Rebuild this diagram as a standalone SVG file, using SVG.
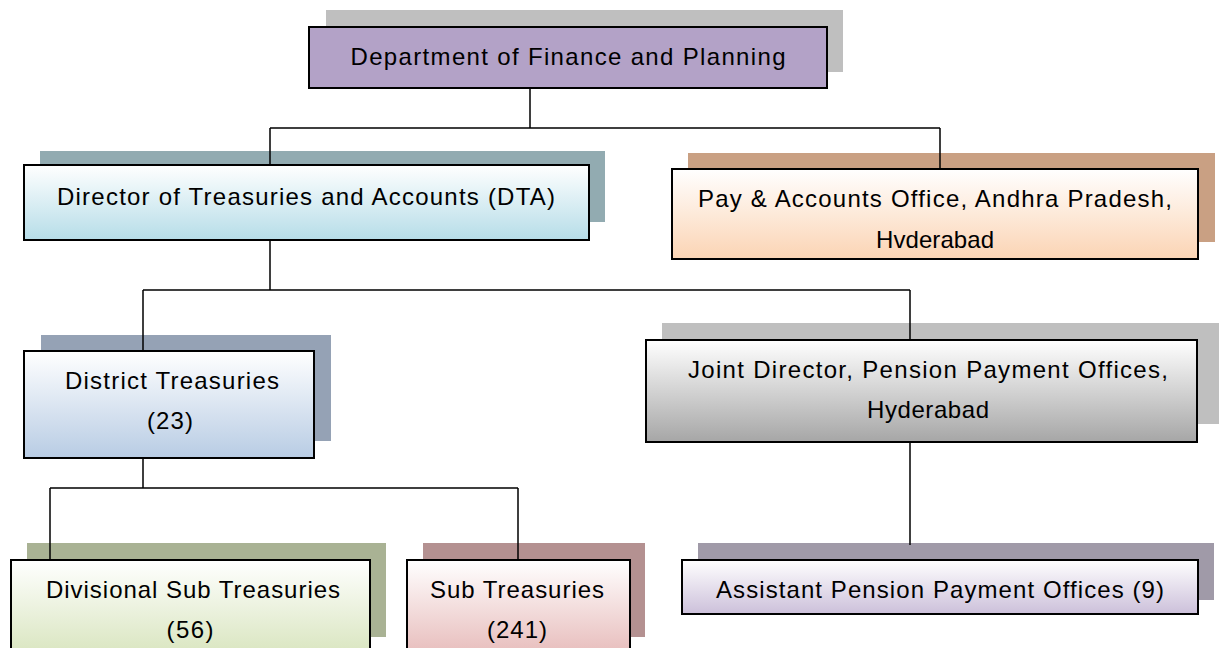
<svg xmlns="http://www.w3.org/2000/svg" width="1219" height="648" viewBox="0 0 1219 648">
<style>
.box{stroke:#000;stroke-width:2}
.t{font-family:"Liberation Sans",Arial,sans-serif;font-size:24px;fill:#000;text-anchor:middle}
.c{stroke:#000;stroke-width:1.5;fill:none}
</style>
<defs>
<linearGradient id="gBlue" x1="0" y1="0" x2="0" y2="1"><stop offset="0" stop-color="#ffffff"/><stop offset="1" stop-color="#b6dde8"/></linearGradient>
<linearGradient id="gOrange" x1="0" y1="0" x2="0" y2="1"><stop offset="0" stop-color="#ffffff"/><stop offset="1" stop-color="#fbd4b4"/></linearGradient>
<linearGradient id="gSteel" x1="0" y1="0" x2="0" y2="1"><stop offset="0" stop-color="#ffffff"/><stop offset="1" stop-color="#b8cce4"/></linearGradient>
<linearGradient id="gGray" x1="0" y1="0" x2="0" y2="1"><stop offset="0" stop-color="#ffffff"/><stop offset="1" stop-color="#a6a6a6"/></linearGradient>
<linearGradient id="gGreen" x1="0" y1="0" x2="0" y2="1"><stop offset="0" stop-color="#ffffff"/><stop offset="1" stop-color="#d7e4bc"/></linearGradient>
<linearGradient id="gRose" x1="0" y1="0" x2="0" y2="1"><stop offset="0" stop-color="#ffffff"/><stop offset="1" stop-color="#e6b9b8"/></linearGradient>
<linearGradient id="gLilac" x1="0" y1="0" x2="0" y2="1"><stop offset="0" stop-color="#ffffff"/><stop offset="1" stop-color="#ccc0da"/></linearGradient>
</defs>
<rect width="1219" height="648" fill="#ffffff"/>

<g id="n-dfp">
<rect x="326" y="10" width="517" height="62" fill="#bfbfbf"/>
<rect class="box" x="309" y="27" width="518" height="61" fill="#b3a2c7"/>
<text class="t" x="568" y="65" textLength="435" lengthAdjust="spacing">Department of Finance and Planning</text>
</g>

<g id="n-dta">
<rect x="40" y="151" width="565" height="71" fill="#92abb1"/>
<rect class="box" x="24" y="165" width="565" height="75" fill="url(#gBlue)"/>
<text class="t" x="306" y="205" textLength="498" lengthAdjust="spacing">Director of Treasuries and Accounts (DTA)</text>
</g>

<g id="n-pao">
<rect x="688" y="153" width="527" height="89" fill="#c9a083"/>
<rect class="box" x="672" y="169" width="526" height="90" fill="url(#gOrange)"/>
<text class="t" x="935" y="207" textLength="474" lengthAdjust="spacing">Pay &amp; Accounts Office, Andhra Pradesh,</text>
<text class="t" x="935" y="248" textLength="118" lengthAdjust="spacing">Hvderabad</text>
</g>

<g id="n-dt">
<rect x="41" y="335" width="290" height="106" fill="#95a2b5"/>
<rect class="box" x="24" y="351" width="290" height="107" fill="url(#gSteel)"/>
<text class="t" x="172" y="389" textLength="214" lengthAdjust="spacing">District Treasuries</text>
<text class="t" x="170" y="429" textLength="46" lengthAdjust="spacing">(23)</text>
</g>

<g id="n-jd">
<rect x="662" y="323" width="557" height="101" fill="#bfbfbf"/>
<rect class="box" x="646" y="340" width="551" height="102" fill="url(#gGray)"/>
<text class="t" x="928" y="378" textLength="480" lengthAdjust="spacing">Joint Director, Pension Payment Offices,</text>
<text class="t" x="928" y="418" textLength="122" lengthAdjust="spacing">Hyderabad</text>
</g>

<g id="n-dst">
<rect x="27" y="543" width="359" height="94" fill="#a9b294"/>
<rect class="box" x="11" y="560" width="359" height="100" fill="url(#gGreen)"/>
<text class="t" x="193" y="598" textLength="294" lengthAdjust="spacing">Divisional Sub Treasuries</text>
<text class="t" x="190" y="638" textLength="47" lengthAdjust="spacing">(56)</text>
</g>

<g id="n-st">
<rect x="423" y="543" width="222" height="94" fill="#b49191"/>
<rect class="box" x="407" y="560" width="223" height="100" fill="url(#gRose)"/>
<text class="t" x="517" y="598" textLength="174" lengthAdjust="spacing">Sub Treasuries</text>
<text class="t" x="517" y="638" textLength="60" lengthAdjust="spacing">(241)</text>
</g>

<g id="n-appo">
<rect x="698" y="543" width="516" height="57" fill="#a09aa8"/>
<rect class="box" x="682" y="560" width="516" height="54" fill="url(#gLilac)"/>
<text class="t" x="940" y="598" textLength="448" lengthAdjust="spacing">Assistant Pension Payment Offices (9)</text>
</g>

<g id="connectors">
<path class="c" d="M530 88 V128 M270 128 H940 M270 128 V165 M940 128 V169"/>
<path class="c" d="M270 240 V290 M143 290 H910 M143 290 V351 M910 290 V340"/>
<path class="c" d="M143 458 V488 M50 488 H518 M50 488 V560 M518 488 V560"/>
<path class="c" d="M910 442 V545"/>
</g>
</svg>
